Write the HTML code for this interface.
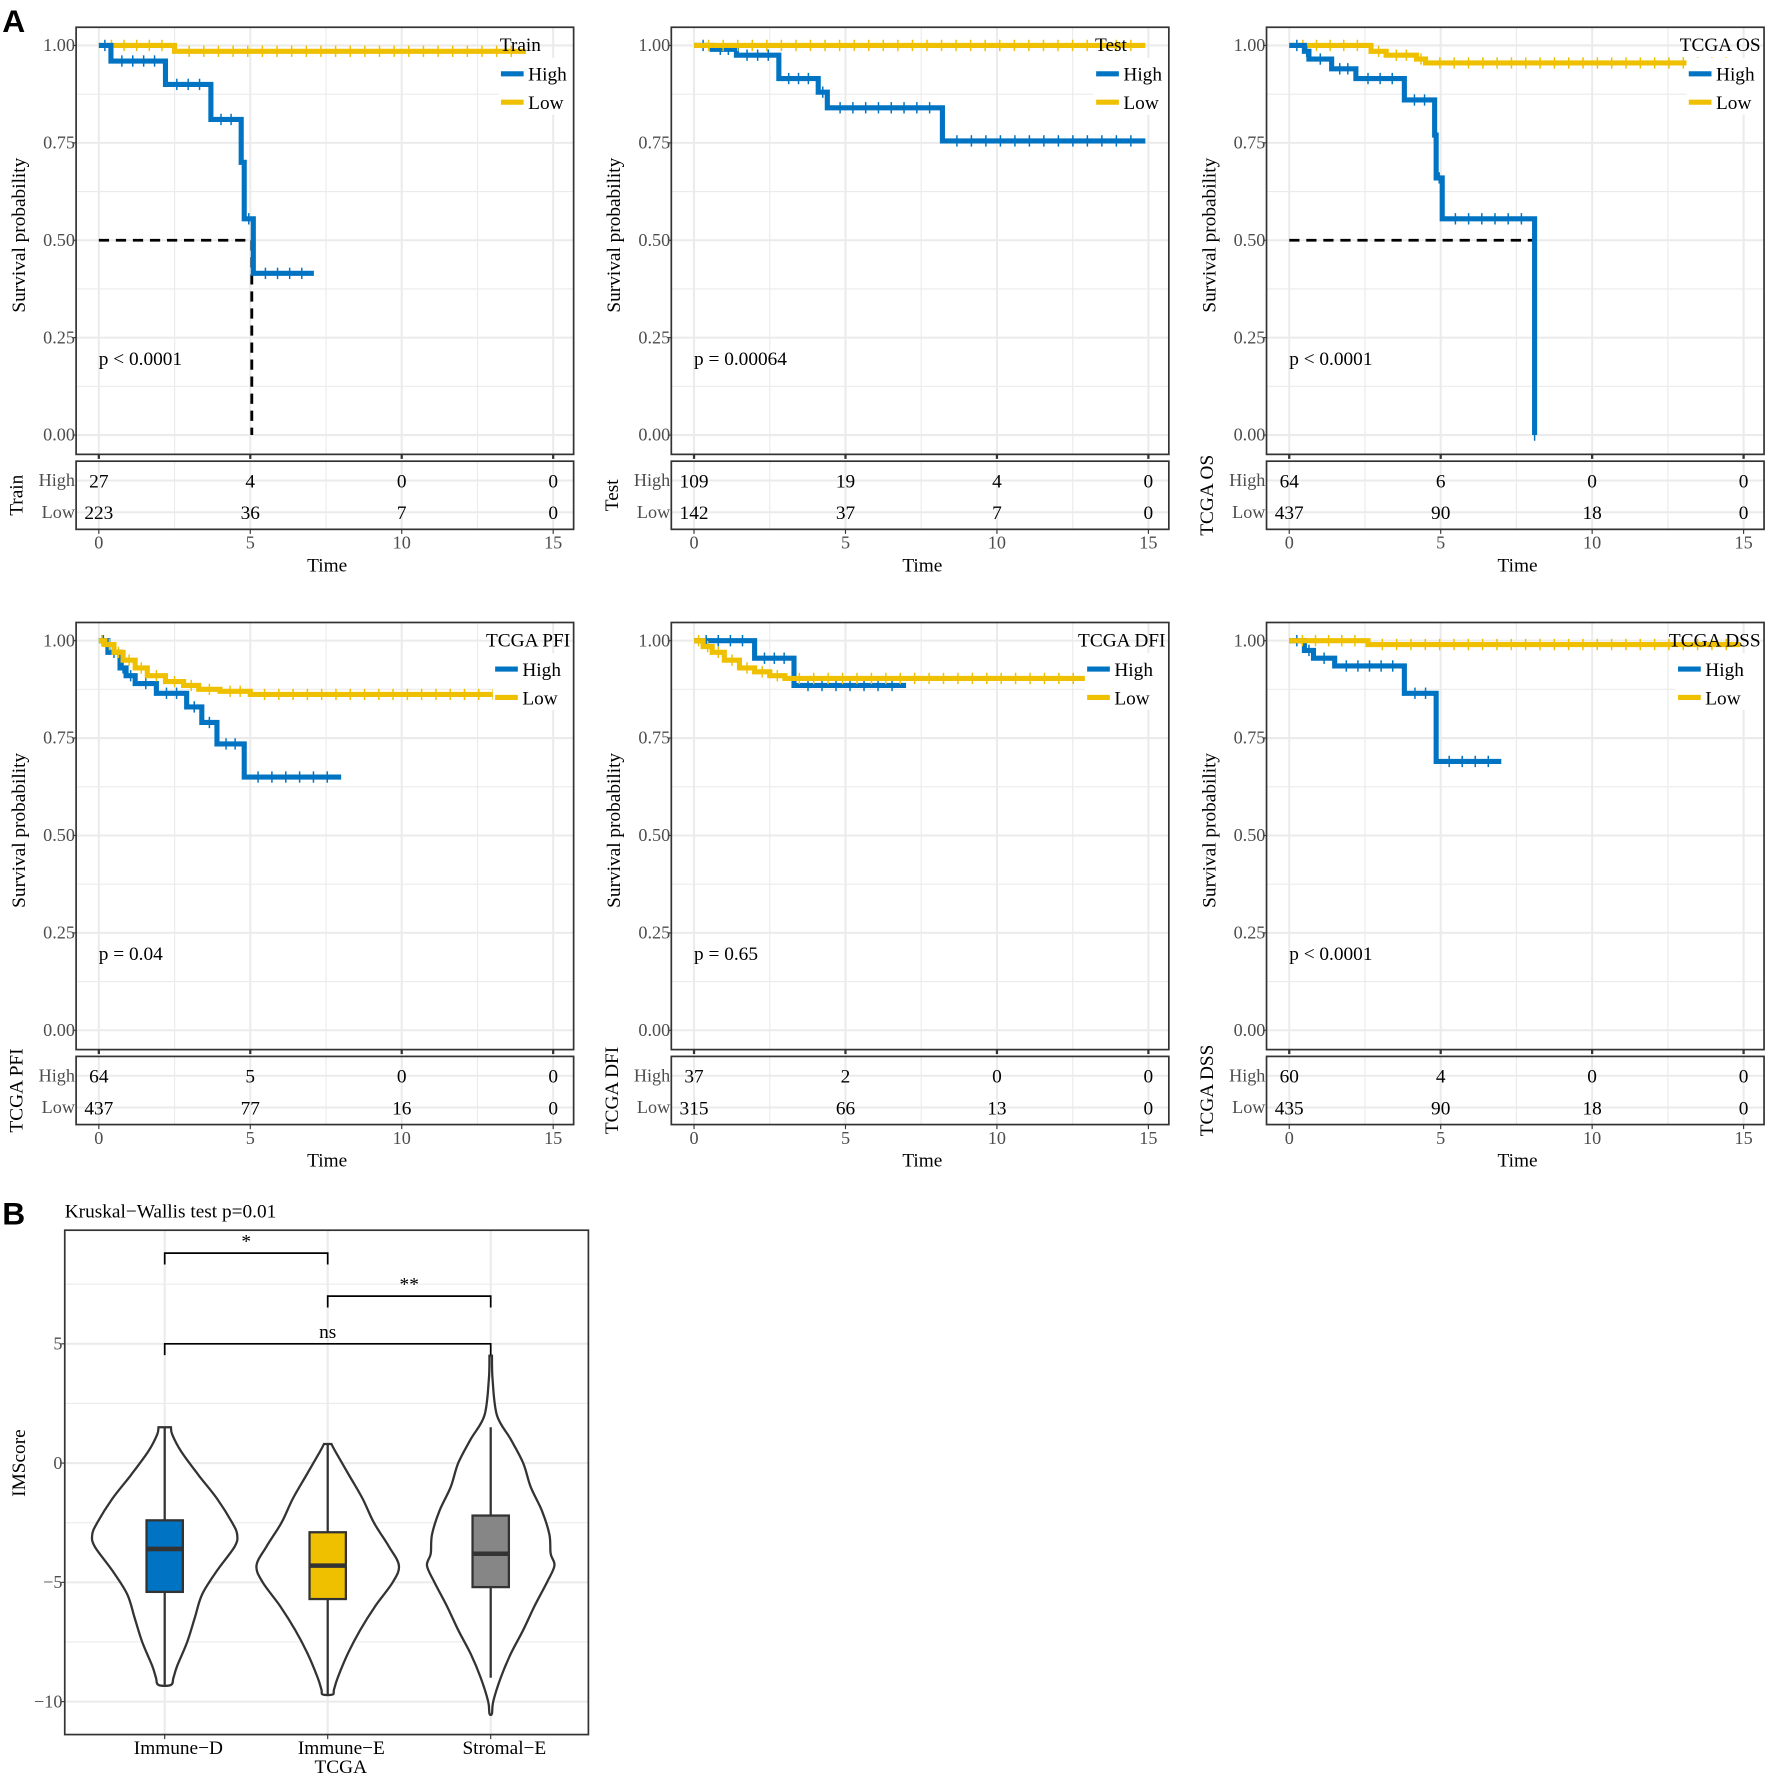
<!DOCTYPE html>
<html><head><meta charset="utf-8">
<style>
html,body{margin:0;padding:0;background:#fff;}
svg{display:block;font-family:"Liberation Serif",serif;}
</style></head>
<body>
<svg id="fig" width="1772" height="1780" viewBox="0 0 1560 1567" preserveAspectRatio="none" xmlns="http://www.w3.org/2000/svg">
<text x="2" y="28" font-family="Liberation Sans, sans-serif" font-weight="bold" font-size="28">A</text>
<text x="2" y="1078" font-family="Liberation Sans, sans-serif" font-weight="bold" font-size="28">B</text>
</svg>
<script>
// ---------- KM data ----------
const timeTicks = [0, 5, 10, 15];
const survTicks = [0, 0.25, 0.5, 0.75, 1];
const survTickLabels = ["0.00", "0.25", "0.50", "0.75", "1.00"];

const trainHighT = [0, 0.4, 2.2, 3.7, 4.7, 4.8, 5.1, 7.1];
const trainHighS = [1, 0.96, 0.90, 0.81, 0.70, 0.555, 0.415, 0.415];
const trainLowT = [0, 2.5, 14.1];
const trainLowS = [1, 0.985, 0.985];
const trainRiskHigh = [27, 4, 0, 0];
const trainRiskLow = [223, 36, 7, 0];

const testHighT = [0, 0.6, 1.4, 2.8, 4.1, 4.4, 8.2, 14.9];
const testHighS = [1, 0.99, 0.975, 0.915, 0.88, 0.84, 0.755, 0.755];
const testLowT = [0, 14.9];
const testLowS = [1, 1];
const testRiskHigh = [109, 19, 4, 0];
const testRiskLow = [142, 37, 7, 0];

const osHighT = [0, 0.5, 0.65, 1.4, 2.2, 3.8, 4.8, 4.85, 5.05, 8.1, 8.1];
const osHighS = [1, 0.985, 0.965, 0.94, 0.915, 0.86, 0.77, 0.66, 0.555, 0, 0];
const osLowT = [0, 2.7, 3.2, 4.2, 4.5, 14.9];
const osLowS = [1, 0.985, 0.975, 0.965, 0.955, 0.955];
const osRiskHigh = [64, 6, 0, 0];
const osRiskLow = [437, 90, 18, 0];

const pfiHighT = [0, 0.3, 0.7, 0.9, 1.2, 1.9, 2.9, 3.4, 3.9, 4.8, 8.0];
const pfiHighS = [1, 0.97, 0.93, 0.91, 0.89, 0.865, 0.83, 0.79, 0.735, 0.65, 0.65];
const pfiLowT = [0, 0.2, 0.5, 0.8, 1.2, 1.6, 2.2, 2.8, 3.3, 4.0, 5.0, 14.9];
const pfiLowS = [1, 0.99, 0.97, 0.95, 0.93, 0.91, 0.895, 0.885, 0.875, 0.87, 0.862, 0.862];
const pfiRiskHigh = [64, 5, 0, 0];
const pfiRiskLow = [437, 77, 16, 0];

const dfiHighT = [0, 2.0, 3.3, 7.0];
const dfiHighS = [1, 0.955, 0.885, 0.885];
const dfiLowT = [0, 0.3, 0.6, 1.0, 1.5, 2.0, 2.5, 3.0, 14.9];
const dfiLowS = [1, 0.985, 0.97, 0.95, 0.93, 0.92, 0.91, 0.903, 0.903];
const dfiRiskHigh = [37, 2, 0, 0];
const dfiRiskLow = [315, 66, 13, 0];

const dssHighT = [0, 0.5, 0.8, 1.5, 3.8, 4.85, 7.0];
const dssHighS = [1, 0.975, 0.955, 0.935, 0.865, 0.69, 0.69];
const dssLowT = [0, 2.6, 14.9];
const dssLowS = [1, 0.99, 0.99];
const dssRiskHigh = [60, 4, 0, 0];
const dssRiskLow = [435, 90, 18, 0];

// ---------- violin data ----------
const groups = ["Immune\u2212D", "Immune\u2212E", "Stromal\u2212E"];
const groupColors = ["#0073C2", "#EFC000", "#868686"];
const boxQ1 = [-5.4, -5.7, -5.2];
const boxMed = [-3.6, -4.3, -3.8];
const boxQ3 = [-2.4, -2.9, -2.2];
const whiskLo = [-9.3, -9.7, -9.0];
const whiskHi = [1.5, 0.8, 1.5];
const violinLevels = [
  [1.5, 1.2, 0.5, -0.5, -1.5, -2.5, -3.0, -3.5, -4.5, -5.5, -6.5, -7.5, -8.5, -9.0, -9.3],
  [0.8, 0.5, -0.5, -1.5, -2.5, -3.5, -4.3, -5.0, -6.0, -7.0, -8.0, -9.0, -9.5, -9.7],
  [4.5, 3.5, 2.0, 1.0, 0.0, -1.0, -2.0, -3.0, -3.8, -4.3, -5.0, -6.0, -7.0, -8.0, -9.0, -10.0, -10.5]
];
const violinWidths = [
  [0.5, 0.6, 1.3, 2.7, 4.2, 5.4, 5.8, 5.6, 4.2, 3.0, 2.4, 1.8, 1.0, 0.7, 0.5],
  [0.3, 0.6, 1.7, 2.8, 3.7, 4.9, 5.7, 5.2, 3.8, 2.6, 1.6, 0.8, 0.5, 0.4],
  [0.1, 0.15, 0.5, 1.6, 2.6, 3.2, 4.1, 4.7, 4.8, 5.1, 4.5, 3.5, 2.6, 1.6, 0.8, 0.2, 0.1]
];
const imsTicks = [5, 0, -5, -10];
const brackets = [[0, 1, 8.8, "*"], [1, 2, 7.0, "**"], [0, 2, 5.0, "ns"]];

// ---------- drawing ----------
const NS = "http://www.w3.org/2000/svg";
const svg = document.getElementById("fig");
function mk(tag, attrs, parent) {
  const e = document.createElementNS(NS, tag);
  for (const k in attrs) e.setAttribute(k, attrs[k]);
  (parent || svg).appendChild(e);
  return e;
}
const BLUE = "#0073C2", YEL = "#EFC000", GRID = "#EBEBEB";

function kmPanel(px, py, title, hiT, hiS, loT, loS, rHi, rLo, pText, median, id) {
  const g = mk("g", {});
  
  
  const L = px, R = px + 438, T = py, B = py + 376;
  const x = t => L + 20 + t * 400 / 15;
  const y = s => (py + 359) - s * 343;
  for (let v = 0; v <= 15; v += 2.5) mk("line", {x1: x(v), x2: x(v), y1: T, y2: B, stroke: GRID, "stroke-width": v % 5 ? 1 : 1.8}, g);
  for (let s = 0; s <= 1.001; s += 0.125) mk("line", {x1: L, x2: R, y1: y(s), y2: y(s), stroke: GRID, "stroke-width": (s * 8) % 2 ? 1 : 1.8}, g);
  survTicks.forEach((s, i) => {
    mk("line", {x1: L - 3, x2: L, y1: y(s), y2: y(s), stroke: "#333"}, g);
    const t = mk("text", {x: L - 1, y: y(s) + 5, "text-anchor": "end", "font-size": 16, fill: "#4d4d4d"}, g);
    t.textContent = survTickLabels[i];
    
    
  });
  const yt = mk("text", {transform: `translate(${px - 45},${py + 183}) rotate(-90)`, "text-anchor": "middle", "font-size": 17}, g);
  yt.textContent = "Survival probability";
  
  
  if (median) {
    mk("line", {x1: x(0), x2: x(median), y1: y(0.5), y2: y(0.5), stroke: "#000", "stroke-width": 2.5, "stroke-dasharray": "9,6"}, g);
    mk("line", {x1: x(median), x2: x(median), y1: y(0.5), y2: y(0), stroke: "#000", "stroke-width": 2.5, "stroke-dasharray": "9,6"}, g);
  }
  function curve(T_, S_, col, name) {
    let d = `M${x(T_[0])},${y(S_[0])}`;
    for (let i = 1; i < T_.length; i++) d += ` H${x(T_[i])} V${y(S_[i])}`;
    const p = mk("path", {d: d, fill: "none", stroke: col, "stroke-width": 4.5}, g);
    
    
    for (let i = 0; i < T_.length - 1; i++) {
      const a = T_[i], b = T_[i + 1];
      const n = Math.max(1, Math.round((b - a) * 2));
      for (let k = 1; k <= n; k++) {
        const tt = a + (b - a) * k / (n + 1);
        mk("line", {x1: x(tt), x2: x(tt), y1: y(S_[i]) - 5, y2: y(S_[i]) + 5, stroke: col, "stroke-width": 1.3}, g);
      }
    }
  }
  if (median) { curve(loT, loS, YEL, "curve-low"); curve(hiT, hiS, BLUE, "curve-high"); }
  else { curve(hiT, hiS, BLUE, "curve-high"); curve(loT, loS, YEL, "curve-low"); }
  // legend
  const lt = mk("text", {x: R - 65, y: T + 21, "font-size": 17}, g);
  lt.textContent = title;
  
  
  let len = 40;
  try { len = lt.getComputedTextLength(); } catch (e) {}
  const start = Math.min(R - 65, R - 3 - len);
  lt.setAttribute("x", start);
  const kx = len > 60 ? start + 8 : start + 1;
  mk("rect", {x: kx - 2, y: T + 27, width: R - kx + 1, height: 50, fill: "#fff"}, g);
  [["High", BLUE, 41], ["Low", YEL, 66]].forEach(([lab, col, dy]) => {
    mk("line", {x1: kx, x2: kx + 20, y1: T + dy, y2: T + dy, stroke: col, "stroke-width": 4.5}, g);
    const le = mk("text", {x: kx + 24, y: T + dy + 6, "font-size": 17}, g);
    le.textContent = lab;
    
    
  });
  mk("rect", {x: L, y: T, width: 438, height: 376, fill: "none", stroke: "#333", "stroke-width": 1.5}, g);
  const pt = mk("text", {x: x(0), y: y(0.18), "font-size": 17}, g);
  pt.textContent = pText;
  
  
  // risk table
  const tT = B + 6, tB = B + 66;
  for (let v = 0; v <= 15; v += 2.5) mk("line", {x1: x(v), x2: x(v), y1: tT, y2: tB, stroke: GRID, "stroke-width": v % 5 ? 1 : 1.8}, g);
  [tT + 17, tT + 45].forEach(yy => mk("line", {x1: L, x2: R, y1: yy, y2: yy, stroke: GRID, "stroke-width": 1.8}, g));
  mk("rect", {x: L, y: tT, width: 438, height: 60, fill: "none", stroke: "#333", "stroke-width": 1.5}, g);
  [["High", rHi, tT + 17], ["Low", rLo, tT + 45]].forEach(([lab, arr, yy]) => {
    const tl = mk("text", {x: L - 1, y: yy + 5, "text-anchor": "end", "font-size": 16, fill: "#4d4d4d"}, g);
    tl.textContent = lab;
    
    
    arr.forEach((v, i) => {
      const tn = mk("text", {x: x(timeTicks[i]), y: yy + 6, "text-anchor": "middle", "font-size": 17}, g);
      tn.textContent = v;
      
      
    });
  });
  const tn = mk("text", {transform: `translate(${px - 47},${tT + 30}) rotate(-90)`, "text-anchor": "middle", "font-size": 17}, g);
  tn.textContent = title;
  
  
  timeTicks.forEach(v => {
    mk("line", {x1: x(v), x2: x(v), y1: tB, y2: tB + 4, stroke: "#333"}, g);
    mk("line", {x1: x(v), x2: x(v), y1: B, y2: B + 4, stroke: "#333", "stroke-width": 2}, g);
    const tx = mk("text", {x: x(v), y: tB + 17, "text-anchor": "middle", "font-size": 16, fill: "#4d4d4d"}, g);
    tx.textContent = v;
    
    
  });
  const xt = mk("text", {x: px + 221, y: tB + 37, "text-anchor": "middle", "font-size": 17}, g);
  xt.textContent = "Time";
  
  
}

kmPanel(67, 24, "Train", trainHighT, trainHighS, trainLowT, trainLowS, trainRiskHigh, trainRiskLow, "p < 0.0001", 5.05, "train");
kmPanel(591, 24, "Test", testHighT, testHighS, testLowT, testLowS, testRiskHigh, testRiskLow, "p = 0.00064", null, "test");
kmPanel(1115, 24, "TCGA OS", osHighT, osHighS, osLowT, osLowS, osRiskHigh, osRiskLow, "p < 0.0001", 8.1, "tcga-os");
kmPanel(67, 548, "TCGA PFI", pfiHighT, pfiHighS, pfiLowT, pfiLowS, pfiRiskHigh, pfiRiskLow, "p = 0.04", null, "tcga-pfi");
kmPanel(591, 548, "TCGA DFI", dfiHighT, dfiHighS, dfiLowT, dfiLowS, dfiRiskHigh, dfiRiskLow, "p = 0.65", null, "tcga-dfi");
kmPanel(1115, 548, "TCGA DSS", dssHighT, dssHighS, dssLowT, dssLowS, dssRiskHigh, dssRiskLow, "p < 0.0001", null, "tcga-dss");

// ---------- violin panel ----------
(function () {
  const g = mk("g", {});
  
  
  const L = 57, R = 518, T = 1083, B = 1527;
  const y = v => 1288 - v * 21;
  const gx = i => 145 + i * 143.5;
  const wScale = 11;
  for (let v = -10; v <= 7.5; v += 2.5) mk("line", {x1: L, x2: R, y1: y(v), y2: y(v), stroke: GRID, "stroke-width": v % 5 ? 1 : 1.8}, g);
  groups.forEach((_, i) => mk("line", {x1: gx(i), x2: gx(i), y1: T, y2: B, stroke: GRID, "stroke-width": 1.8}, g));
  groups.forEach((name, i) => {
    const lv = violinLevels[i], wd = violinWidths[i], cx = gx(i);
    let pts = lv.map((v, k) => [cx + wd[k] * wScale, y(v)]);
    let left = lv.map((v, k) => [cx - wd[k] * wScale, y(v)]).reverse();
    const all = pts.concat(left);
    let d = `M${all[0][0]},${all[0][1]}`;
    for (let k = 0; k < all.length - 1; k++) {
      const p0 = all[Math.max(0, k - 1)], p1 = all[k], p2 = all[k + 1], p3 = all[Math.min(all.length - 1, k + 2)];
      d += ` C${p1[0] + (p2[0] - p0[0]) / 6},${p1[1] + (p2[1] - p0[1]) / 6} ${p2[0] - (p3[0] - p1[0]) / 6},${p2[1] - (p3[1] - p1[1]) / 6} ${p2[0]},${p2[1]}`;
    }
    d += " Z";
    const vp = mk("path", {d: d, fill: "#fff", stroke: "#333", "stroke-width": 2}, g);
    
    
    mk("line", {x1: cx, x2: cx, y1: y(whiskHi[i]), y2: y(whiskLo[i]), stroke: "#333", "stroke-width": 2}, g);
    const bx = mk("rect", {x: cx - 16, y: y(boxQ3[i]), width: 32, height: y(boxQ1[i]) - y(boxQ3[i]), fill: groupColors[i], stroke: "#333", "stroke-width": 2}, g);
    
    
    mk("line", {x1: cx - 16, x2: cx + 16, y1: y(boxMed[i]), y2: y(boxMed[i]), stroke: "#333", "stroke-width": 4}, g);
    mk("line", {x1: cx, x2: cx, y1: B, y2: B + 4, stroke: "#333"}, g);
    const xl = mk("text", {x: cx + 12, y: B + 17, "text-anchor": "middle", "font-size": 17}, g);
    xl.textContent = name;
    
    
  });
  brackets.forEach(([a, b, v, lab]) => {
    mk("path", {d: `M${gx(a)},${y(v) + 10} V${y(v)} H${gx(b)} V${y(v) + 10}`, fill: "none", stroke: "#000", "stroke-width": 1.5}, g);
    const bt = mk("text", {x: (gx(a) + gx(b)) / 2, y: y(v) - 5, "text-anchor": "middle", "font-size": 17}, g);
    bt.textContent = lab;
    
    
  });
  imsTicks.forEach(v => {
    mk("line", {x1: L - 3, x2: L, y1: y(v), y2: y(v), stroke: "#333"}, g);
    const t = mk("text", {x: L - 2, y: y(v) + 5, "text-anchor": "end", "font-size": 16, fill: "#4d4d4d"}, g);
    t.textContent = v < 0 ? "\u2212" + (-v) : v;
    
    
  });
  mk("rect", {x: L, y: T, width: R - L, height: B - T, fill: "none", stroke: "#333", "stroke-width": 1.5}, g);
  const tt = mk("text", {x: 57, y: 1072, "font-size": 17}, g);
  tt.textContent = "Kruskal\u2212Wallis test p=0.01";
  
  
  const yt = mk("text", {transform: "translate(22,1288) rotate(-90)", "text-anchor": "middle", "font-size": 17}, g);
  yt.textContent = "IMScore";
  
  
  const xt = mk("text", {x: 300, y: 1561, "text-anchor": "middle", "font-size": 17}, g);
  xt.textContent = "TCGA";
  
  
})();
</script>
</body></html>
